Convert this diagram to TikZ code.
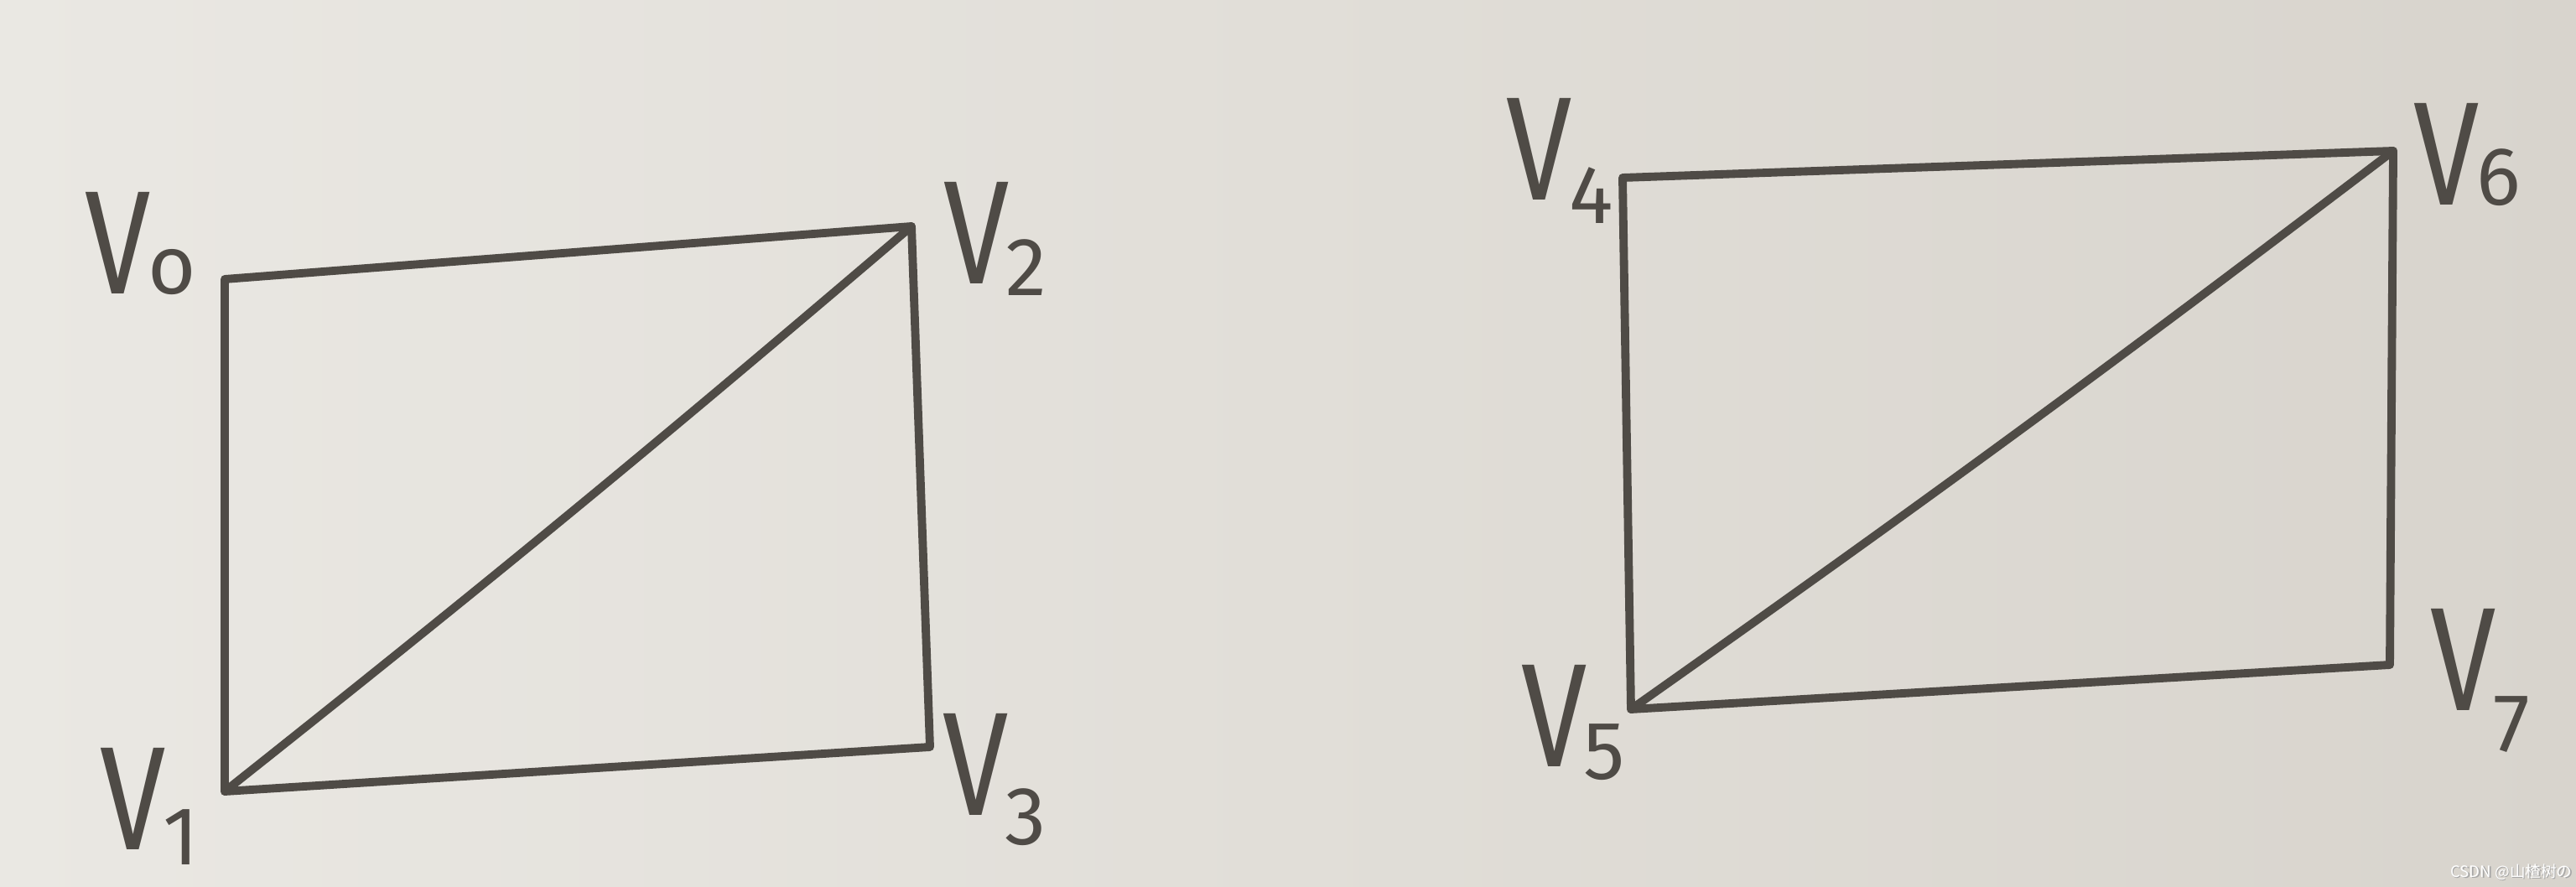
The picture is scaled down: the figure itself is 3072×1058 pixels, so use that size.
\documentclass[tikz,border=0pt]{standalone}
\usepackage{fontspec}
\newfontfamily\hand{Fira Sans}
\newfontfamily\cjk{Noto Sans CJK SC}
\definecolor{paperA}{HTML}{EAE8E3}
\definecolor{paperB}{HTML}{D8D4CD}
\definecolor{ink}{HTML}{4F4B46}
\newcommand\vlab[2]{\scalebox{0.8}[1]{\fontsize{50}{50}\selectfont V}\kern-1pt\raisebox{#2}{\fontsize{28}{28}\selectfont #1}}
\begin{document}
\begin{tikzpicture}[x=0.01cm,y=-0.01cm,
  edge/.style={draw=ink,line width=2.8pt,line cap=round,line join=round},
  lbl/.style={text=ink,font=\hand,inner sep=0pt}]
\shade[left color=paperA,right color=paperB] (0,0) rectangle (3072,1058);
\useasboundingbox (0,0) rectangle (3072,1058);
% left rectangle corners
\coordinate (v0) at (268,333);
\coordinate (v2) at (1087,270);
\coordinate (v3) at (1109,891);
\coordinate (v1) at (268,944);
% right rectangle corners
\coordinate (v4) at (1935,212);
\coordinate (v6) at (2854,180);
\coordinate (v7) at (2850,793);
\coordinate (v5) at (1945,846);
\draw[edge] (v0) -- (v2) -- (v3) -- (v1) -- cycle;
\draw[edge] (v1) to[bend right=1] (v2);
\draw[edge] (v4) -- (v6) -- (v7) -- (v5) -- cycle;
\draw[edge] (v5) to[bend right=1] (v6);
% labels
\node[lbl] (l0) at (168,291) {\vlab{o}{0pt}};
\node[lbl] (l2) at (1187,285) {\vlab{2}{-4pt}};
\node[lbl] (l1) at (178,962) {\vlab{1}{-5pt}};
\node[lbl] (l3) at (1186,930) {\vlab{3}{-10pt}};
\node[lbl] (l4) at (1860,192) {\vlab{4}{-8pt}};
\node[lbl] (l6) at (2942,185) {\vlab{6}{0pt}};
\node[lbl] (l5) at (1876,862) {\vlab{5}{-4pt}};
\node[lbl] (l7) at (2958,812) {\vlab{7}{-14pt}};
\node[text=black!35,font=\cjk\fontsize{5.3}{5.3}\selectfont,inner sep=0pt] at (2996.5,1041.5) {CSDN @山楂树の};
\node[text=white,font=\cjk\fontsize{5.3}{5.3}\selectfont,inner sep=0pt] (wm) at (2995,1040) {CSDN @山楂树の};
\end{tikzpicture}
\end{document}
